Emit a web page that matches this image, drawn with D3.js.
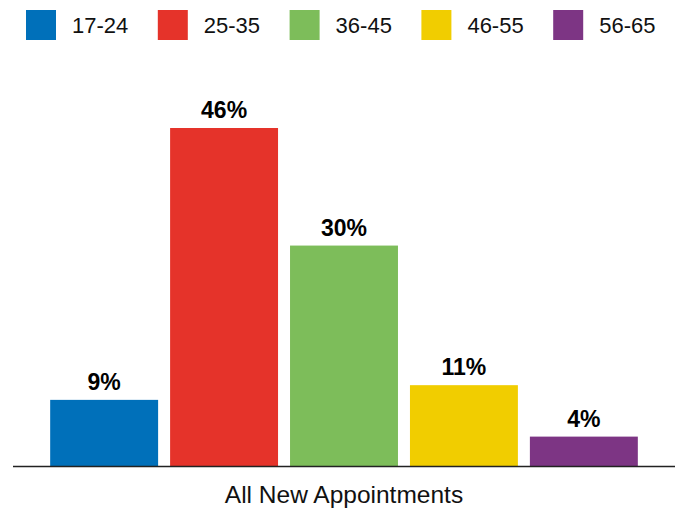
<!DOCTYPE html>
<html>
<head>
<meta charset="utf-8">
<script src="https://cdn.jsdelivr.net/npm/d3@7"></script>
<style>
  body { margin: 0; background: #fff; }
  svg { display: block; font-family: Arial, "Liberation Sans", sans-serif; }
</style>
</head>
<body>
<svg id="chart" width="681" height="508"></svg>
<script>
var ageGroups = ['17-24', '25-35', '36-45', '46-55', '56-65'];
var shares = [9, 46, 30, 11, 4];
var groupColors = ['#0070ba', '#e5332a', '#7dbd5a', '#f1cd00', '#7d3584'];
var categoryLabel = 'All New Appointments';

var svg = d3.select('#chart');

var x = d3.scaleBand()
    .domain(ageGroups)
    .range([13, 675])
    .paddingInner(0.1)
    .paddingOuter(0.31);

var y = d3.scaleLinear()
    .domain([0, 46])
    .range([466, 128]);

var color = d3.scaleOrdinal().domain(ageGroups).range(groupColors);

// legend
var legend = svg.append('g').attr('class', 'legend');
var item = legend.selectAll('g')
    .data(ageGroups)
    .enter().append('g')
    .attr('transform', function (d, i) { return 'translate(' + (26 + i * 131.8) + ',10)'; });

item.append('rect')
    .attr('width', 30)
    .attr('height', 30)
    .attr('fill', function (d) { return color(d); });

item.append('text')
    .attr('x', 46)
    .attr('y', 23)
    .style('font-size', '22px')
    .attr('fill', '#111')
    .text(function (d) { return d; });

// bars
svg.append('g').selectAll('rect')
    .data(ageGroups)
    .enter().append('rect')
    .attr('x', function (d) { return x(d); })
    .attr('y', function (d, i) { return y(shares[i]); })
    .attr('width', x.bandwidth())
    .attr('height', function (d, i) { return y(0) - y(shares[i]); })
    .attr('fill', function (d) { return color(d); });

svg.append('g').selectAll('text')
    .data(ageGroups)
    .enter().append('text')
    .attr('x', function (d) { return x(d) + x.bandwidth() / 2; })
    .attr('y', function (d, i) { return y(shares[i]) - 10; })
    .attr('text-anchor', 'middle')
    .style('font-size', '23px')
    .style('font-weight', 'bold')
    .attr('fill', '#000')
    .text(function (d, i) { return shares[i] + '%'; });

// baseline
svg.append('line')
    .attr('x1', 13)
    .attr('x2', 675)
    .attr('y1', y(0) + 0.5)
    .attr('y2', y(0) + 0.5)
    .attr('stroke', '#222')
    .attr('stroke-width', 1.5);

svg.append('text')
    .attr('x', 344)
    .attr('y', 503)
    .attr('text-anchor', 'middle')
    .style('font-size', '24.5px')
    .attr('fill', '#111')
    .text(categoryLabel);
</script>
</body>
</html>
